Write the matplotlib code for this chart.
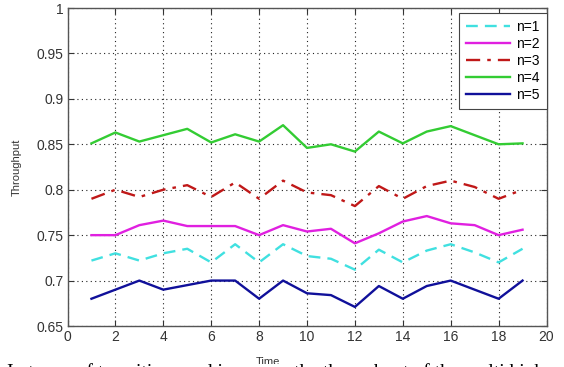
import matplotlib
matplotlib.use("Agg")
import matplotlib.pyplot as plt
from matplotlib.patches import Rectangle

time = list(range(1, 20))
n1 = [0.722, 0.730, 0.722, 0.730, 0.735, 0.720, 0.740, 0.720, 0.740, 0.727,
      0.724, 0.712, 0.734, 0.720, 0.733, 0.740, 0.731, 0.720, 0.735]
n2 = [0.750, 0.750, 0.761, 0.766, 0.760, 0.760, 0.760, 0.750, 0.761, 0.754,
      0.757, 0.741, 0.752, 0.765, 0.771, 0.763, 0.761, 0.750, 0.756]
n3 = [0.790, 0.800, 0.792, 0.800, 0.805, 0.792, 0.808, 0.790, 0.810, 0.797,
      0.794, 0.782, 0.804, 0.790, 0.804, 0.810, 0.803, 0.790, 0.800]
n4 = [0.851, 0.863, 0.853, 0.860, 0.867, 0.852, 0.861, 0.853, 0.871, 0.846,
      0.850, 0.842, 0.864, 0.851, 0.864, 0.870, 0.860, 0.850, 0.851]
n5 = [0.680, 0.690, 0.700, 0.690, 0.695, 0.700, 0.700, 0.680, 0.700, 0.686,
      0.684, 0.671, 0.694, 0.680, 0.694, 0.700, 0.690, 0.680, 0.700]
labels = ["n=1", "n=2", "n=3", "n=4", "n=5"]
xticks = list(range(0, 21, 2))
yticks = [0.65, 0.7, 0.75, 0.8, 0.85, 0.9, 0.95, 1.0]
ytick_labels = ["0.65", "0.7", "0.75", "0.8", "0.85", "0.9", "0.95", "1"]

plt.rcParams['font.family'] = ['Liberation Sans', 'DejaVu Sans']

fig = plt.figure(figsize=(5.64, 3.67), dpi=100)
ax = fig.add_axes([67.5 / 564, 1 - 326 / 367, (546.5 - 67.5) / 564, (326 - 8) / 367])

ax.plot(time, n1, color='#40e0e0', lw=1.7, ls=(0, (5, 3)), label=labels[0])
ax.plot(time, n2, color='#e020e0', lw=1.7, ls='-', label=labels[1])
ax.plot(time, n3, color='#c01818', lw=1.7, ls=(0, (6, 3, 1.5, 3)), label=labels[2])
ax.plot(time, n4, color='#33cc33', lw=1.7, ls='-', label=labels[3])
ax.plot(time, n5, color='#10109a', lw=1.7, ls='-', label=labels[4])

ax.set_xlim(0, 20)
ax.set_ylim(0.65, 1.0)
ax.set_xticks(xticks)
ax.set_yticks(yticks)
ax.set_yticklabels(ytick_labels)
ax.tick_params(direction='in', top=True, right=True, length=4, labelsize=10,
               colors='#333333', pad=3)
ax.grid(True, color='#222222', ls=(0, (1, 3)), lw=0.8)
for s in ax.spines.values():
    s.set_color('#555555')
    s.set_linewidth(1.0)

ax.set_ylabel("Throughput", fontsize=8, color='#333333')
ax.yaxis.set_label_coords(-(67.5 - 22) / 479, 0.5)
ax.set_xlabel("Time", fontsize=8, color='#333333')
ax.xaxis.set_label_coords((268 - 67.5) / 479, -(357 - 326) / 318)

leg = ax.legend(loc='upper right', bbox_to_anchor=(1.0, 1 - 5 / 318), borderaxespad=0,
                fancybox=False, edgecolor='#444444', framealpha=1, fontsize=10,
                handlelength=3.2, handletextpad=0.4, labelspacing=0.22,
                borderpad=0.5)
leg.get_frame().set_linewidth(0.8)

# white band and cropped body text from the source page
fig.patches.append(Rectangle((0, 0), 1, 3.5 / 367, transform=fig.transFigure,
                             facecolor='white', edgecolor='none', zorder=5))
fig.text(0.012, 1 - 377 / 367,
         "In terms of transitions and increases the throughput of the multi high",
         family=['Liberation Serif', 'DejaVu Serif'], fontsize=14, va='baseline',
         ha='left', color='black', zorder=6)

fig.savefig("out.png", dpi=100)
